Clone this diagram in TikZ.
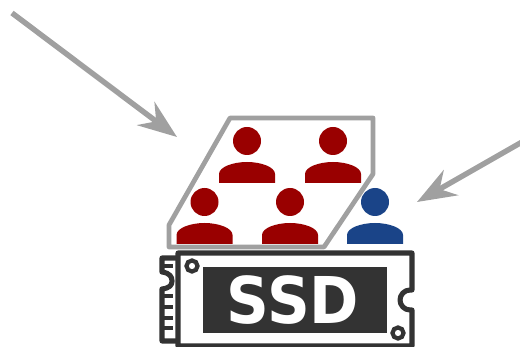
\documentclass[tikz,border=0pt]{standalone}
\usepackage{fontspec}
\usepackage{xcolor}
\usetikzlibrary{arrows.meta}
\setmainfont{DejaVu Sans}
\definecolor{ssdgray}{HTML}{A0A0A0}
\definecolor{ssddark}{HTML}{333333}
\definecolor{ssdred}{HTML}{990000}
\definecolor{ssdblue}{HTML}{1A4488}
\tikzset{
  ioArrow/.style={-{Stealth[length=0.78cm,width=0.58cm,inset=0.26cm]}, line width=3.1pt, draw=ssdgray},
  ssdLine/.style={draw=ssddark, line width=2.9pt, line join=round},
  ssdLabel/.style={font=\fontsize{36}{36}\selectfont\bfseries, text=white, inner sep=0pt}
}
\begin{document}
\begin{tikzpicture}[x=0.02cm,y=-0.02cm]
  \useasboundingbox (0,0) rectangle (520,347);
  % arrows
  \coordinate (inA) at (12,13);
  \coordinate (tipA) at (177,137);
  \coordinate (inB) at (522,142);
  \coordinate (tipB) at (417,202);
  \draw[ioArrow] (inA) -- (tipA);
  \draw[ioArrow] (inB) -- (tipB);
  % block of pages
  \draw[draw=ssdgray, line width=2.7pt, line join=round] (230,118) -- (373,118) -- (373,174) -- (324,247) -- (169,247) -- (169,225) -- cycle;
  % users
  \foreach \px/\py/\pc in {247/141/ssdred, 333/141/ssdred, 204.5/202/ssdred, 290/202/ssdred, 375/202/ssdblue} {
    \fill[\pc] (\px,\py) circle[radius=14];
    \fill[\pc] (\px-28,\py+42) -- (\px-28,\py+33) .. controls (\px-28,\py+26) and (\px-14,\py+21) .. (\px,\py+21) .. controls (\px+14,\py+21) and (\px+28,\py+26) .. (\px+28,\py+33) -- (\px+28,\py+42) -- cycle;
  }
  % drive
  \draw[ssdLine] (178,253) -- (412,253) -- (412,290) -- (410,290) .. controls (404,290) and (400,295) .. (400,300) .. controls (400,305) and (404,310) .. (410,310) -- (412,310) -- (412,346) -- (178,346) -- cycle;
  \draw[ssdLine] (178,258) -- (162,258) -- (162,272) .. controls (170,273) and (172,277) .. (172,281) .. controls (172,285) and (170,288) .. (162,289) -- (162,341) -- (178,341);
  \foreach \ty in {266,296,307,318,328}
    \draw[ssdLine, line width=2.3pt] (163,\ty) -- (173,\ty);
  \draw[ssddark, line width=2.4pt] (192,266) circle[radius=5.5];
  \draw[ssddark, line width=2.4pt] (398,333) circle[radius=5.5];
  \node[fill=ssddark, minimum width=184*0.02cm, minimum height=66*0.02cm, inner sep=0pt] (chip) at (295,300) {};
  \node[ssdLabel] (ssdText) at (293,300) {\scalebox{0.94}[1.02]{SSD}};
\end{tikzpicture}
\end{document}
